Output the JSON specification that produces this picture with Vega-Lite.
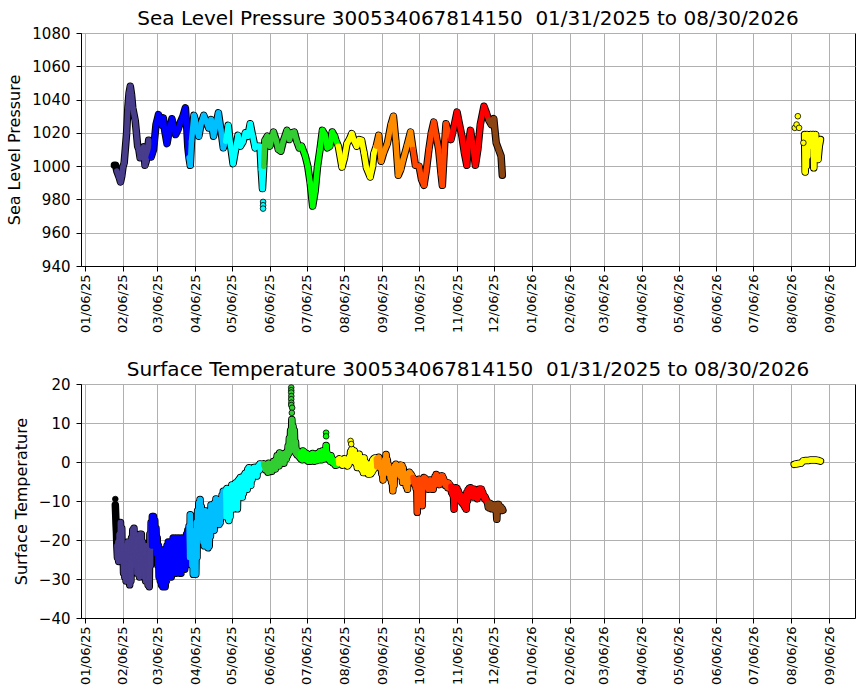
{
  "$schema": "https://vega.github.io/schema/vega-lite/v6.json",
  "background": "white",
  "padding": {"left": 6, "top": 8, "right": 5, "bottom": 5},
  "spacing": 26,
  "config": {
    "font": "DejaVu Sans",
    "view": {"stroke": "black", "strokeWidth": 1},
    "title": {"fontSize": 20, "fontWeight": "normal", "color": "black", "frame": "group", "offset": -3},
    "axis": {"domainColor": "black", "domainWidth": 1, "tickColor": "black", "tickSize": 5, "labelColor": "black", "titleColor": "black", "gridColor": "#b0b0b0", "gridWidth": 1, "titleFontWeight": "normal", "titleFontSize": 16},
    "axisX": {"labelFontSize": 13, "labelPadding": 3, "labelOverlap": false, "labelFlush": false, "labelBound": false},
    "axisY": {"labelFontSize": 15, "labelPadding": 6, "titlePadding": 9, "format": "d"}
  },
  "datasets": {
    "p": [
      {"t": "2025-01-30", "v": 1000.5}, {"t": "2025-01-31", "v": 1000.5},
      {"t": "2025-02-01", "v": 997}, {"t": "2025-02-03", "v": 993}, {"t": "2025-02-04", "v": 990.5}, {"t": "2025-02-05", "v": 994},
      {"t": "2025-02-06", "v": 999.5}, {"t": "2025-02-07", "v": 1002}, {"t": "2025-02-09", "v": 1020}, {"t": "2025-02-10", "v": 1035},
      {"t": "2025-02-11", "v": 1044}, {"t": "2025-02-12", "v": 1048}, {"t": "2025-02-13", "v": 1043}, {"t": "2025-02-14", "v": 1035},
      {"t": "2025-02-16", "v": 1027.5}, {"t": "2025-02-17", "v": 1020}, {"t": "2025-02-18", "v": 1012}, {"t": "2025-02-19", "v": 1010},
      {"t": "2025-02-20", "v": 1005}, {"t": "2025-02-21", "v": 1008}, {"t": "2025-02-23", "v": 1011.5}, {"t": "2025-02-24", "v": 1000.5},
      {"t": "2025-02-25", "v": 1003}, {"t": "2025-02-27", "v": 1015.5}, {"t": "2025-02-28", "v": 1010},
      {"t": "2025-03-01", "v": 1005.5}, {"t": "2025-03-03", "v": 1010}, {"t": "2025-03-05", "v": 1025}, {"t": "2025-03-07", "v": 1031},
      {"t": "2025-03-08", "v": 1027}, {"t": "2025-03-10", "v": 1024.5}, {"t": "2025-03-11", "v": 1029}, {"t": "2025-03-12", "v": 1022},
      {"t": "2025-03-14", "v": 1013.5}, {"t": "2025-03-16", "v": 1022}, {"t": "2025-03-18", "v": 1028.5}, {"t": "2025-03-19", "v": 1025},
      {"t": "2025-03-21", "v": 1019}, {"t": "2025-03-23", "v": 1022}, {"t": "2025-03-25", "v": 1026.5}, {"t": "2025-03-27", "v": 1030},
      {"t": "2025-03-29", "v": 1035}, {"t": "2025-03-30", "v": 1025}, {"t": "2025-03-31", "v": 1011.5},
      {"t": "2025-04-01", "v": 1005}, {"t": "2025-04-02", "v": 1000.5}, {"t": "2025-04-03", "v": 1015}, {"t": "2025-04-05", "v": 1030.5},
      {"t": "2025-04-06", "v": 1028}, {"t": "2025-04-07", "v": 1022}, {"t": "2025-04-09", "v": 1018}, {"t": "2025-04-11", "v": 1026},
      {"t": "2025-04-13", "v": 1030.5}, {"t": "2025-04-15", "v": 1027}, {"t": "2025-04-17", "v": 1023}, {"t": "2025-04-19", "v": 1028},
      {"t": "2025-04-21", "v": 1018}, {"t": "2025-04-23", "v": 1025}, {"t": "2025-04-25", "v": 1032}, {"t": "2025-04-27", "v": 1022},
      {"t": "2025-04-29", "v": 1011},
      {"t": "2025-05-01", "v": 1015}, {"t": "2025-05-03", "v": 1024.5}, {"t": "2025-05-05", "v": 1012}, {"t": "2025-05-07", "v": 1001.5},
      {"t": "2025-05-09", "v": 1010}, {"t": "2025-05-11", "v": 1018.5}, {"t": "2025-05-13", "v": 1012}, {"t": "2025-05-15", "v": 1014.5},
      {"t": "2025-05-17", "v": 1020}, {"t": "2025-05-19", "v": 1018}, {"t": "2025-05-21", "v": 1025.5}, {"t": "2025-05-23", "v": 1018},
      {"t": "2025-05-25", "v": 1011}, {"t": "2025-05-27", "v": 1012}, {"t": "2025-05-29", "v": 1012}, {"t": "2025-05-30", "v": 998},
      {"t": "2025-05-31", "v": 986.5},
      {"t": "2025-06-01", "v": 1000}, {"t": "2025-06-02", "v": 1015.5}, {"t": "2025-06-04", "v": 1018}, {"t": "2025-06-06", "v": 1012},
      {"t": "2025-06-09", "v": 1020.5}, {"t": "2025-06-11", "v": 1016}, {"t": "2025-06-13", "v": 1010}, {"t": "2025-06-15", "v": 1009},
      {"t": "2025-06-17", "v": 1015}, {"t": "2025-06-20", "v": 1021.5}, {"t": "2025-06-22", "v": 1016}, {"t": "2025-06-24", "v": 1020},
      {"t": "2025-06-26", "v": 1020.5}, {"t": "2025-06-28", "v": 1015}, {"t": "2025-06-30", "v": 1011},
      {"t": "2025-07-02", "v": 1012}, {"t": "2025-07-05", "v": 1006}, {"t": "2025-07-07", "v": 1000}, {"t": "2025-07-09", "v": 990},
      {"t": "2025-07-11", "v": 976}, {"t": "2025-07-13", "v": 985}, {"t": "2025-07-15", "v": 1000}, {"t": "2025-07-17", "v": 1010},
      {"t": "2025-07-19", "v": 1021.5}, {"t": "2025-07-21", "v": 1019}, {"t": "2025-07-23", "v": 1011}, {"t": "2025-07-25", "v": 1012},
      {"t": "2025-07-27", "v": 1020.5}, {"t": "2025-07-29", "v": 1018}, {"t": "2025-07-30", "v": 1015.5},
      {"t": "2025-08-01", "v": 1012}, {"t": "2025-08-04", "v": 999.5}, {"t": "2025-08-06", "v": 1005}, {"t": "2025-08-08", "v": 1013.5},
      {"t": "2025-08-10", "v": 1016}, {"t": "2025-08-12", "v": 1019.5}, {"t": "2025-08-14", "v": 1015}, {"t": "2025-08-16", "v": 1012},
      {"t": "2025-08-18", "v": 1016}, {"t": "2025-08-20", "v": 1015.5}, {"t": "2025-08-22", "v": 1008}, {"t": "2025-08-24", "v": 999},
      {"t": "2025-08-27", "v": 993.5}, {"t": "2025-08-29", "v": 1000}, {"t": "2025-08-30", "v": 1007.5},
      {"t": "2025-09-01", "v": 1012}, {"t": "2025-09-03", "v": 1018.5}, {"t": "2025-09-05", "v": 1003}, {"t": "2025-09-07", "v": 1008},
      {"t": "2025-09-10", "v": 1013.5}, {"t": "2025-09-13", "v": 1025}, {"t": "2025-09-15", "v": 1030}, {"t": "2025-09-17", "v": 1015},
      {"t": "2025-09-19", "v": 994.5}, {"t": "2025-09-21", "v": 998}, {"t": "2025-09-23", "v": 1004}, {"t": "2025-09-26", "v": 1012},
      {"t": "2025-09-29", "v": 1020.5},
      {"t": "2025-10-01", "v": 1010}, {"t": "2025-10-03", "v": 1000.5}, {"t": "2025-10-06", "v": 1000}, {"t": "2025-10-08", "v": 992},
      {"t": "2025-10-10", "v": 988.5}, {"t": "2025-10-12", "v": 998}, {"t": "2025-10-14", "v": 1010}, {"t": "2025-10-16", "v": 1020},
      {"t": "2025-10-18", "v": 1026.5}, {"t": "2025-10-20", "v": 1018}, {"t": "2025-10-22", "v": 1010}, {"t": "2025-10-24", "v": 995},
      {"t": "2025-10-25", "v": 988.5}, {"t": "2025-10-27", "v": 1015}, {"t": "2025-10-28", "v": 1025.5}, {"t": "2025-10-30", "v": 1020},
      {"t": "2025-11-01", "v": 1016}, {"t": "2025-11-03", "v": 1022}, {"t": "2025-11-06", "v": 1032.5}, {"t": "2025-11-08", "v": 1025},
      {"t": "2025-11-10", "v": 1018}, {"t": "2025-11-12", "v": 1008}, {"t": "2025-11-14", "v": 1000.5}, {"t": "2025-11-15", "v": 1012},
      {"t": "2025-11-17", "v": 1021.5}, {"t": "2025-11-19", "v": 1012}, {"t": "2025-11-21", "v": 1000.5}, {"t": "2025-11-23", "v": 1010},
      {"t": "2025-11-25", "v": 1025}, {"t": "2025-11-28", "v": 1036}, {"t": "2025-11-30", "v": 1032},
      {"t": "2025-12-02", "v": 1027.5}, {"t": "2025-12-04", "v": 1025}, {"t": "2025-12-06", "v": 1028.5}, {"t": "2025-12-08", "v": 1014},
      {"t": "2025-12-10", "v": 1010}, {"t": "2025-12-12", "v": 1006}, {"t": "2025-12-13", "v": 994.5},
      {"t": "2026-08-17", "v": 1019}, {"t": "2026-08-17T12:00Z", "v": 996.5}, {"t": "2026-08-18", "v": 1018}, {"t": "2026-08-18T12:00Z", "v": 1000},
      {"t": "2026-08-19", "v": 1019}, {"t": "2026-08-19T12:00Z", "v": 1006}, {"t": "2026-08-20", "v": 1016}, {"t": "2026-08-21", "v": 1012},
      {"t": "2026-08-22", "v": 1019}, {"t": "2026-08-23", "v": 1015}, {"t": "2026-08-24", "v": 1019}, {"t": "2026-08-24T12:00Z", "v": 999},
      {"t": "2026-08-25", "v": 1017}, {"t": "2026-08-26", "v": 1019}, {"t": "2026-08-27", "v": 1010}, {"t": "2026-08-28", "v": 1004},
      {"t": "2026-08-29", "v": 1012}, {"t": "2026-08-30", "v": 1016}
    ],
    "pp": [
      {"t": "2025-05-31T12:00Z", "v": 978.5}, {"t": "2025-05-31T12:00Z", "v": 976.5}, {"t": "2025-05-31T12:00Z", "v": 974.5},
      {"t": "2026-08-09", "v": 1023}, {"t": "2026-08-10T12:00Z", "v": 1025}, {"t": "2026-08-11T12:00Z", "v": 1030},
      {"t": "2026-08-12T12:00Z", "v": 1023}, {"t": "2026-08-16", "v": 1014}
    ],
    "s": [
      {"t": "2025-01-30T18:00Z", "v": -11}, {"t": "2025-01-31T00:00Z", "v": -13}, {"t": "2025-01-31T08:00Z", "v": -16}, {"t": "2025-01-31T16:00Z", "v": -18},
      {"t": "2025-02-01", "v": -21.5}, {"t": "2025-02-01T12:00Z", "v": -24.5}, {"t": "2025-02-02", "v": -20.5}, {"t": "2025-02-02T12:00Z", "v": -25.5},
      {"t": "2025-02-03", "v": -18.5}, {"t": "2025-02-03T12:00Z", "v": -23.5}, {"t": "2025-02-04", "v": -15.5}, {"t": "2025-02-04T12:00Z", "v": -21.5},
      {"t": "2025-02-05", "v": -17}, {"t": "2025-02-05T12:00Z", "v": -25.5}, {"t": "2025-02-06", "v": -21.5}, {"t": "2025-02-06T12:00Z", "v": -28.5},
      {"t": "2025-02-07", "v": -22.5}, {"t": "2025-02-07T12:00Z", "v": -29.5}, {"t": "2025-02-08", "v": -23.5}, {"t": "2025-02-08T12:00Z", "v": -30.5},
      {"t": "2025-02-09", "v": -21.5}, {"t": "2025-02-09T12:00Z", "v": -27.5}, {"t": "2025-02-10", "v": -20.5}, {"t": "2025-02-10T12:00Z", "v": -28.5},
      {"t": "2025-02-11", "v": -22.5}, {"t": "2025-02-11T12:00Z", "v": -31.5}, {"t": "2025-02-12", "v": -21.5}, {"t": "2025-02-12T12:00Z", "v": -30.5},
      {"t": "2025-02-13", "v": -19.5}, {"t": "2025-02-13T12:00Z", "v": -26.5}, {"t": "2025-02-14", "v": -17.5}, {"t": "2025-02-14T12:00Z", "v": -24.5},
      {"t": "2025-02-15", "v": -17}, {"t": "2025-02-15T12:00Z", "v": -23.5}, {"t": "2025-02-16", "v": -18.5}, {"t": "2025-02-16T12:00Z", "v": -26.5},
      {"t": "2025-02-17", "v": -20.5}, {"t": "2025-02-17T12:00Z", "v": -28.5}, {"t": "2025-02-18", "v": -19.5}, {"t": "2025-02-18T12:00Z", "v": -27.5},
      {"t": "2025-02-19", "v": -21.5}, {"t": "2025-02-19T12:00Z", "v": -29.5}, {"t": "2025-02-20", "v": -18.5}, {"t": "2025-02-20T12:00Z", "v": -26.5},
      {"t": "2025-02-21", "v": -18.5}, {"t": "2025-02-21T12:00Z", "v": -25.5}, {"t": "2025-02-22", "v": -20.5}, {"t": "2025-02-22T12:00Z", "v": -27.5},
      {"t": "2025-02-23", "v": -22.5}, {"t": "2025-02-23T12:00Z", "v": -29.5}, {"t": "2025-02-24", "v": -23.5}, {"t": "2025-02-24T12:00Z", "v": -30.5},
      {"t": "2025-02-25", "v": -21.5}, {"t": "2025-02-25T12:00Z", "v": -28.5}, {"t": "2025-02-26", "v": -24.5}, {"t": "2025-02-26T12:00Z", "v": -31.5},
      {"t": "2025-02-27", "v": -23.5}, {"t": "2025-02-27T12:00Z", "v": -32}, {"t": "2025-02-28", "v": -18.5}, {"t": "2025-02-28T12:00Z", "v": -26.5},
      {"t": "2025-03-01", "v": -15.5}, {"t": "2025-03-01T12:00Z", "v": -21.5}, {"t": "2025-03-02", "v": -14}, {"t": "2025-03-02T12:00Z", "v": -19.5},
      {"t": "2025-03-03", "v": -14}, {"t": "2025-03-03T12:00Z", "v": -18.5}, {"t": "2025-03-04", "v": -15}, {"t": "2025-03-04T12:00Z", "v": -21.5},
      {"t": "2025-03-05", "v": -17}, {"t": "2025-03-05T12:00Z", "v": -23.5}, {"t": "2025-03-06", "v": -19.5}, {"t": "2025-03-06T12:00Z", "v": -26.5},
      {"t": "2025-03-07", "v": -21.5}, {"t": "2025-03-07T12:00Z", "v": -29.5}, {"t": "2025-03-08", "v": -22.5}, {"t": "2025-03-08T12:00Z", "v": -30.5},
      {"t": "2025-03-09", "v": -24.5}, {"t": "2025-03-09T12:00Z", "v": -31.5}, {"t": "2025-03-10", "v": -23.5}, {"t": "2025-03-10T12:00Z", "v": -32},
      {"t": "2025-03-11", "v": -22.5}, {"t": "2025-03-11T12:00Z", "v": -30.5}, {"t": "2025-03-12", "v": -24.5}, {"t": "2025-03-12T12:00Z", "v": -32},
      {"t": "2025-03-13", "v": -23.5}, {"t": "2025-03-13T12:00Z", "v": -30.5}, {"t": "2025-03-14", "v": -21.5}, {"t": "2025-03-14T12:00Z", "v": -29.5},
      {"t": "2025-03-15", "v": -20.5}, {"t": "2025-03-15T12:00Z", "v": -28.5}, {"t": "2025-03-16", "v": -21.5}, {"t": "2025-03-16T12:00Z", "v": -29.5},
      {"t": "2025-03-17", "v": -20.5}, {"t": "2025-03-17T12:00Z", "v": -29.5}, {"t": "2025-03-18", "v": -21.5}, {"t": "2025-03-18T12:00Z", "v": -28.5},
      {"t": "2025-03-19", "v": -19.5}, {"t": "2025-03-19T12:00Z", "v": -27.5}, {"t": "2025-03-20", "v": -20.5}, {"t": "2025-03-20T12:00Z", "v": -28.5},
      {"t": "2025-03-21", "v": -19.5}, {"t": "2025-03-21T12:00Z", "v": -28.5}, {"t": "2025-03-22", "v": -20.5}, {"t": "2025-03-22T12:00Z", "v": -27.5},
      {"t": "2025-03-23", "v": -19.5}, {"t": "2025-03-23T12:00Z", "v": -27.5}, {"t": "2025-03-24", "v": -21.5}, {"t": "2025-03-24T12:00Z", "v": -28.5},
      {"t": "2025-03-25", "v": -20.5}, {"t": "2025-03-25T12:00Z", "v": -28.5}, {"t": "2025-03-26", "v": -19.5}, {"t": "2025-03-26T12:00Z", "v": -27.5},
      {"t": "2025-03-27", "v": -20.5}, {"t": "2025-03-27T12:00Z", "v": -26.5}, {"t": "2025-03-28", "v": -19.5}, {"t": "2025-03-28T12:00Z", "v": -27.5},
      {"t": "2025-03-29", "v": -20.5}, {"t": "2025-03-29T12:00Z", "v": -26.5}, {"t": "2025-03-30", "v": -18.5}, {"t": "2025-03-30T12:00Z", "v": -25.5},
      {"t": "2025-03-31", "v": -17.5}, {"t": "2025-03-31T12:00Z", "v": -25.5},
      {"t": "2025-04-01", "v": -16.5}, {"t": "2025-04-01T12:00Z", "v": -24.5}, {"t": "2025-04-02", "v": -13.5}, {"t": "2025-04-02T12:00Z", "v": -23.5},
      {"t": "2025-04-03", "v": -17.5}, {"t": "2025-04-03T12:00Z", "v": -26.5}, {"t": "2025-04-04", "v": -19.5}, {"t": "2025-04-04T12:00Z", "v": -28.8},
      {"t": "2025-04-05", "v": -18.5}, {"t": "2025-04-05T12:00Z", "v": -27.5}, {"t": "2025-04-06", "v": -20.5}, {"t": "2025-04-06T12:00Z", "v": -28.8},
      {"t": "2025-04-07", "v": -15.5}, {"t": "2025-04-07T12:00Z", "v": -24.5}, {"t": "2025-04-08", "v": -12.5}, {"t": "2025-04-08T12:00Z", "v": -19.5},
      {"t": "2025-04-09", "v": -10.5}, {"t": "2025-04-09T12:00Z", "v": -17.5}, {"t": "2025-04-10", "v": -9.6}, {"t": "2025-04-10T12:00Z", "v": -18.5},
      {"t": "2025-04-11", "v": -11.5}, {"t": "2025-04-11T12:00Z", "v": -19.5}, {"t": "2025-04-12", "v": -12.5}, {"t": "2025-04-12T12:00Z", "v": -20.5},
      {"t": "2025-04-13", "v": -13.5}, {"t": "2025-04-13T12:00Z", "v": -21.5}, {"t": "2025-04-14", "v": -12.5}, {"t": "2025-04-14T12:00Z", "v": -20.5},
      {"t": "2025-04-15", "v": -13.5}, {"t": "2025-04-15T12:00Z", "v": -21.5}, {"t": "2025-04-16", "v": -14}, {"t": "2025-04-16T12:00Z", "v": -22},
      {"t": "2025-04-17", "v": -14.5}, {"t": "2025-04-17T12:00Z", "v": -21.5}, {"t": "2025-04-18", "v": -12.5}, {"t": "2025-04-18T12:00Z", "v": -19},
      {"t": "2025-04-19", "v": -11}, {"t": "2025-04-19T12:00Z", "v": -17}, {"t": "2025-04-20", "v": -11.5}, {"t": "2025-04-20T12:00Z", "v": -17.5},
      {"t": "2025-04-21", "v": -12}, {"t": "2025-04-21T12:00Z", "v": -17.5}, {"t": "2025-04-22", "v": -10.5}, {"t": "2025-04-22T12:00Z", "v": -16},
      {"t": "2025-04-23", "v": -9.5}, {"t": "2025-04-23T12:00Z", "v": -15}, {"t": "2025-04-24", "v": -9.6}, {"t": "2025-04-24T12:00Z", "v": -14},
      {"t": "2025-04-25", "v": -10.5}, {"t": "2025-04-25T12:00Z", "v": -16}, {"t": "2025-04-26", "v": -11}, {"t": "2025-04-26T12:00Z", "v": -15.5},
      {"t": "2025-04-27", "v": -10.5}, {"t": "2025-04-27T12:00Z", "v": -14}, {"t": "2025-04-28", "v": -8.5}, {"t": "2025-04-28T12:00Z", "v": -13},
      {"t": "2025-04-29", "v": -7.5}, {"t": "2025-04-29T12:00Z", "v": -12.5}, {"t": "2025-04-30", "v": -7.5}, {"t": "2025-04-30T12:00Z", "v": -14},
      {"t": "2025-05-01", "v": -7.5}, {"t": "2025-05-01T12:00Z", "v": -14}, {"t": "2025-05-02", "v": -6.8}, {"t": "2025-05-02T12:00Z", "v": -13},
      {"t": "2025-05-03", "v": -8.5}, {"t": "2025-05-03T12:00Z", "v": -15}, {"t": "2025-05-04", "v": -7.5}, {"t": "2025-05-04T12:00Z", "v": -14},
      {"t": "2025-05-05", "v": -6.8}, {"t": "2025-05-05T12:00Z", "v": -12}, {"t": "2025-05-06", "v": -5.9}, {"t": "2025-05-06T12:00Z", "v": -11},
      {"t": "2025-05-07", "v": -6.5}, {"t": "2025-05-07T12:00Z", "v": -12}, {"t": "2025-05-08", "v": -5.9}, {"t": "2025-05-08T12:00Z", "v": -11},
      {"t": "2025-05-09", "v": -5.4}, {"t": "2025-05-09T12:00Z", "v": -10}, {"t": "2025-05-10", "v": -5.9}, {"t": "2025-05-10T12:00Z", "v": -12},
      {"t": "2025-05-11", "v": -4.9}, {"t": "2025-05-11T12:00Z", "v": -9}, {"t": "2025-05-12", "v": -4.4}, {"t": "2025-05-12T12:00Z", "v": -8},
      {"t": "2025-05-13", "v": -4}, {"t": "2025-05-13T12:00Z", "v": -9}, {"t": "2025-05-14", "v": -4.9}, {"t": "2025-05-14T12:00Z", "v": -9},
      {"t": "2025-05-15", "v": -4}, {"t": "2025-05-15T12:00Z", "v": -8}, {"t": "2025-05-16", "v": -3.4}, {"t": "2025-05-16T12:00Z", "v": -7},
      {"t": "2025-05-17", "v": -2.9}, {"t": "2025-05-17T12:00Z", "v": -6}, {"t": "2025-05-18", "v": -3.4}, {"t": "2025-05-18T12:00Z", "v": -7},
      {"t": "2025-05-19", "v": -1.9}, {"t": "2025-05-19T12:00Z", "v": -5}, {"t": "2025-05-20", "v": -1.5}, {"t": "2025-05-20T12:00Z", "v": -4.2},
      {"t": "2025-05-21", "v": -2.4}, {"t": "2025-05-21T12:00Z", "v": -6}, {"t": "2025-05-22", "v": -2.4}, {"t": "2025-05-22T12:00Z", "v": -4.5},
      {"t": "2025-05-23", "v": -1.9}, {"t": "2025-05-23T12:00Z", "v": -3.6}, {"t": "2025-05-24", "v": -1.4}, {"t": "2025-05-24T12:00Z", "v": -3.1},
      {"t": "2025-05-25", "v": -1.4}, {"t": "2025-05-25T12:00Z", "v": -2.6}, {"t": "2025-05-26", "v": -1.9}, {"t": "2025-05-26T12:00Z", "v": -3.6},
      {"t": "2025-05-27", "v": -1.4}, {"t": "2025-05-27T12:00Z", "v": -2.1}, {"t": "2025-05-28", "v": -0.9}, {"t": "2025-05-28T12:00Z", "v": -2.1},
      {"t": "2025-05-29", "v": -0.5}, {"t": "2025-05-29T12:00Z", "v": -1.6}, {"t": "2025-05-30", "v": -0.9}, {"t": "2025-05-30T12:00Z", "v": -1.1},
      {"t": "2025-05-31", "v": -0.6}, {"t": "2025-05-31T12:00Z", "v": -1},
      {"t": "2025-06-01", "v": -0.5}, {"t": "2025-06-01T12:00Z", "v": -1}, {"t": "2025-06-02", "v": -1.2}, {"t": "2025-06-02T12:00Z", "v": -2},
      {"t": "2025-06-03", "v": -0.8}, {"t": "2025-06-03T12:00Z", "v": -1.8}, {"t": "2025-06-04", "v": -1.5}, {"t": "2025-06-04T12:00Z", "v": -2.6},
      {"t": "2025-06-05", "v": -0.3}, {"t": "2025-06-05T12:00Z", "v": -1.2}, {"t": "2025-06-06", "v": -0.8}, {"t": "2025-06-06T12:00Z", "v": -2.2},
      {"t": "2025-06-07", "v": -1.2}, {"t": "2025-06-07T12:00Z", "v": -2.4}, {"t": "2025-06-08", "v": -0.3}, {"t": "2025-06-08T12:00Z", "v": -1.4},
      {"t": "2025-06-09", "v": 0.1}, {"t": "2025-06-09T12:00Z", "v": -0.8}, {"t": "2025-06-10", "v": -0.6}, {"t": "2025-06-10T12:00Z", "v": -1.8},
      {"t": "2025-06-11", "v": 0.6}, {"t": "2025-06-11T12:00Z", "v": -0.4}, {"t": "2025-06-12", "v": 1.6}, {"t": "2025-06-12T12:00Z", "v": 0.2},
      {"t": "2025-06-13", "v": 0.3}, {"t": "2025-06-13T12:00Z", "v": -1}, {"t": "2025-06-14", "v": 2.3}, {"t": "2025-06-14T12:00Z", "v": 0.9},
      {"t": "2025-06-15", "v": 1.2}, {"t": "2025-06-15T12:00Z", "v": -0.2}, {"t": "2025-06-16", "v": 1.9}, {"t": "2025-06-16T12:00Z", "v": 0.8},
      {"t": "2025-06-17", "v": 0.8}, {"t": "2025-06-17T12:00Z", "v": -0.3}, {"t": "2025-06-18", "v": 2.2}, {"t": "2025-06-18T12:00Z", "v": 1.3},
      {"t": "2025-06-19", "v": 1.2}, {"t": "2025-06-19T12:00Z", "v": 0.8}, {"t": "2025-06-20", "v": 2.6}, {"t": "2025-06-20T12:00Z", "v": 1.6},
      {"t": "2025-06-21", "v": 4.1}, {"t": "2025-06-21T12:00Z", "v": 2.2}, {"t": "2025-06-22", "v": 6.1}, {"t": "2025-06-22T12:00Z", "v": 2.8},
      {"t": "2025-06-23", "v": 8.1}, {"t": "2025-06-23T12:00Z", "v": 3.6}, {"t": "2025-06-24", "v": 10.9}, {"t": "2025-06-24T12:00Z", "v": 4.6},
      {"t": "2025-06-25", "v": 9.1}, {"t": "2025-06-25T12:00Z", "v": 3.6}, {"t": "2025-06-26", "v": 8.1}, {"t": "2025-06-26T12:00Z", "v": 2.8},
      {"t": "2025-06-27", "v": 5.1}, {"t": "2025-06-27T12:00Z", "v": 2.2}, {"t": "2025-06-28", "v": 3.1}, {"t": "2025-06-28T12:00Z", "v": 1.8},
      {"t": "2025-06-29", "v": 2.6}, {"t": "2025-06-29T12:00Z", "v": 1.6}, {"t": "2025-06-30", "v": 2.2}, {"t": "2025-06-30T12:00Z", "v": 1.2},
      {"t": "2025-07-01", "v": 2.2}, {"t": "2025-07-01T12:00Z", "v": 0.8}, {"t": "2025-07-02", "v": 1.8}, {"t": "2025-07-02T12:00Z", "v": 0.6},
      {"t": "2025-07-03", "v": 2.8}, {"t": "2025-07-03T12:00Z", "v": 1.4}, {"t": "2025-07-04", "v": 2.6}, {"t": "2025-07-04T12:00Z", "v": 1.2},
      {"t": "2025-07-05", "v": 1.8}, {"t": "2025-07-05T12:00Z", "v": 0.6}, {"t": "2025-07-06", "v": 2.2}, {"t": "2025-07-06T12:00Z", "v": 1},
      {"t": "2025-07-07", "v": 1.4}, {"t": "2025-07-07T12:00Z", "v": 0.2}, {"t": "2025-07-08", "v": 1.8}, {"t": "2025-07-08T12:00Z", "v": 0.6},
      {"t": "2025-07-09", "v": 1.4}, {"t": "2025-07-09T12:00Z", "v": 0.2}, {"t": "2025-07-10", "v": 1.8}, {"t": "2025-07-10T12:00Z", "v": 0.6},
      {"t": "2025-07-11", "v": 2.2}, {"t": "2025-07-11T12:00Z", "v": 1}, {"t": "2025-07-12", "v": 1.4}, {"t": "2025-07-12T12:00Z", "v": 0.2},
      {"t": "2025-07-13", "v": 1.8}, {"t": "2025-07-13T12:00Z", "v": 0.6}, {"t": "2025-07-14", "v": 1.4}, {"t": "2025-07-14T12:00Z", "v": 0.4},
      {"t": "2025-07-15", "v": 2.2}, {"t": "2025-07-15T12:00Z", "v": 1}, {"t": "2025-07-16", "v": 1.8}, {"t": "2025-07-16T12:00Z", "v": 0.6},
      {"t": "2025-07-17", "v": 2.6}, {"t": "2025-07-17T12:00Z", "v": 1}, {"t": "2025-07-18", "v": 1.8}, {"t": "2025-07-18T12:00Z", "v": 0.6},
      {"t": "2025-07-19", "v": 2.8}, {"t": "2025-07-19T12:00Z", "v": 1.2}, {"t": "2025-07-20", "v": 2.2}, {"t": "2025-07-20T12:00Z", "v": 0.8},
      {"t": "2025-07-21", "v": 2.6}, {"t": "2025-07-21T12:00Z", "v": 1}, {"t": "2025-07-22", "v": 4.2}, {"t": "2025-07-22T12:00Z", "v": 1.4},
      {"t": "2025-07-23", "v": 2.2}, {"t": "2025-07-23T12:00Z", "v": 1}, {"t": "2025-07-24", "v": 1.8}, {"t": "2025-07-24T12:00Z", "v": 0.6},
      {"t": "2025-07-25", "v": 1.2}, {"t": "2025-07-25T12:00Z", "v": 0.2}, {"t": "2025-07-26", "v": 1.6}, {"t": "2025-07-26T12:00Z", "v": 0.4},
      {"t": "2025-07-27", "v": 0.8}, {"t": "2025-07-27T12:00Z", "v": -0.2}, {"t": "2025-07-28", "v": 0.4}, {"t": "2025-07-28T12:00Z", "v": -0.4},
      {"t": "2025-07-29", "v": 0}, {"t": "2025-07-29T12:00Z", "v": -0.8}, {"t": "2025-07-30", "v": 0}, {"t": "2025-07-30T12:00Z", "v": -0.8},
      {"t": "2025-07-31", "v": 0.4}, {"t": "2025-07-31T12:00Z", "v": -0.4},
      {"t": "2025-08-01", "v": 0.6}, {"t": "2025-08-01T12:00Z", "v": -0.4}, {"t": "2025-08-02", "v": 0.8}, {"t": "2025-08-02T12:00Z", "v": -0.2},
      {"t": "2025-08-03", "v": 0.5}, {"t": "2025-08-03T12:00Z", "v": -0.5}, {"t": "2025-08-04", "v": 0.2}, {"t": "2025-08-04T12:00Z", "v": -0.8},
      {"t": "2025-08-05", "v": 0.6}, {"t": "2025-08-05T12:00Z", "v": -0.5}, {"t": "2025-08-06", "v": 0.8}, {"t": "2025-08-06T12:00Z", "v": -0.4},
      {"t": "2025-08-07", "v": 0.4}, {"t": "2025-08-07T12:00Z", "v": -0.7}, {"t": "2025-08-08", "v": 0.2}, {"t": "2025-08-08T12:00Z", "v": -1},
      {"t": "2025-08-09", "v": 0.5}, {"t": "2025-08-09T12:00Z", "v": -0.6}, {"t": "2025-08-10", "v": 1.2}, {"t": "2025-08-10T12:00Z", "v": 0.2},
      {"t": "2025-08-11", "v": 2.6}, {"t": "2025-08-11T12:00Z", "v": 0.9}, {"t": "2025-08-12", "v": 3.2}, {"t": "2025-08-12T12:00Z", "v": 1},
      {"t": "2025-08-13", "v": 2.4}, {"t": "2025-08-13T12:00Z", "v": 0.2}, {"t": "2025-08-14", "v": 2.8}, {"t": "2025-08-14T12:00Z", "v": 0.4},
      {"t": "2025-08-15", "v": 2}, {"t": "2025-08-15T12:00Z", "v": -0.4}, {"t": "2025-08-16", "v": 1.2}, {"t": "2025-08-16T12:00Z", "v": -1.4},
      {"t": "2025-08-17", "v": 1.6}, {"t": "2025-08-17T12:00Z", "v": -1}, {"t": "2025-08-18", "v": 2}, {"t": "2025-08-18T12:00Z", "v": -0.6},
      {"t": "2025-08-19", "v": 1.2}, {"t": "2025-08-19T12:00Z", "v": -1.6}, {"t": "2025-08-20", "v": 0.8}, {"t": "2025-08-20T12:00Z", "v": -2},
      {"t": "2025-08-21", "v": 0.2}, {"t": "2025-08-21T12:00Z", "v": -2.7}, {"t": "2025-08-22", "v": 1}, {"t": "2025-08-22T12:00Z", "v": -1.8},
      {"t": "2025-08-23", "v": 0}, {"t": "2025-08-23T12:00Z", "v": -2.2}, {"t": "2025-08-24", "v": -0.4}, {"t": "2025-08-24T12:00Z", "v": -2.6},
      {"t": "2025-08-25", "v": -0.8}, {"t": "2025-08-25T12:00Z", "v": -3.1}, {"t": "2025-08-26", "v": -1.2}, {"t": "2025-08-26T12:00Z", "v": -3.1},
      {"t": "2025-08-27", "v": -0.8}, {"t": "2025-08-27T12:00Z", "v": -3}, {"t": "2025-08-28", "v": -0.4}, {"t": "2025-08-28T12:00Z", "v": -2.6},
      {"t": "2025-08-29", "v": 0.4}, {"t": "2025-08-29T12:00Z", "v": -2}, {"t": "2025-08-30", "v": 0.8}, {"t": "2025-08-30T12:00Z", "v": -1.6},
      {"t": "2025-08-31", "v": 1}, {"t": "2025-08-31T12:00Z", "v": -1.2},
      {"t": "2025-09-01", "v": 0.8}, {"t": "2025-09-01T12:00Z", "v": -1.2}, {"t": "2025-09-02", "v": 1}, {"t": "2025-09-02T12:00Z", "v": -0.8},
      {"t": "2025-09-03", "v": 1.2}, {"t": "2025-09-03T12:00Z", "v": -0.2}, {"t": "2025-09-04", "v": -0.2}, {"t": "2025-09-04T12:00Z", "v": -1.6},
      {"t": "2025-09-05", "v": -1}, {"t": "2025-09-05T12:00Z", "v": -3}, {"t": "2025-09-06", "v": -1.8}, {"t": "2025-09-06T12:00Z", "v": -4.6},
      {"t": "2025-09-07", "v": -1}, {"t": "2025-09-07T12:00Z", "v": -3}, {"t": "2025-09-08", "v": 0.6}, {"t": "2025-09-08T12:00Z", "v": -1.2},
      {"t": "2025-09-09", "v": 1.9}, {"t": "2025-09-09T12:00Z", "v": -0.2}, {"t": "2025-09-10", "v": 0.6}, {"t": "2025-09-10T12:00Z", "v": -1.2},
      {"t": "2025-09-11", "v": -0.8}, {"t": "2025-09-11T12:00Z", "v": -3}, {"t": "2025-09-12", "v": -1.6}, {"t": "2025-09-12T12:00Z", "v": -4.2},
      {"t": "2025-09-13", "v": -2.6}, {"t": "2025-09-13T12:00Z", "v": -5.2}, {"t": "2025-09-14", "v": -4.2}, {"t": "2025-09-14T12:00Z", "v": -7.4},
      {"t": "2025-09-15", "v": -2.8}, {"t": "2025-09-15T12:00Z", "v": -6}, {"t": "2025-09-16", "v": -1}, {"t": "2025-09-16T12:00Z", "v": -3.2},
      {"t": "2025-09-17", "v": -0.6}, {"t": "2025-09-17T12:00Z", "v": -2.2}, {"t": "2025-09-18", "v": -0.9}, {"t": "2025-09-18T12:00Z", "v": -1.8},
      {"t": "2025-09-19", "v": -1}, {"t": "2025-09-19T12:00Z", "v": -2.8}, {"t": "2025-09-20", "v": -1.4}, {"t": "2025-09-20T12:00Z", "v": -3.6},
      {"t": "2025-09-21", "v": -0.8}, {"t": "2025-09-21T12:00Z", "v": -2.8}, {"t": "2025-09-22", "v": -0.9}, {"t": "2025-09-22T12:00Z", "v": -5.2},
      {"t": "2025-09-23", "v": -1.6}, {"t": "2025-09-23T12:00Z", "v": -4}, {"t": "2025-09-24", "v": -2.8}, {"t": "2025-09-24T12:00Z", "v": -5.2},
      {"t": "2025-09-25", "v": -3.6}, {"t": "2025-09-25T12:00Z", "v": -6.2}, {"t": "2025-09-26", "v": -4.4}, {"t": "2025-09-26T12:00Z", "v": -7},
      {"t": "2025-09-27", "v": -3.2}, {"t": "2025-09-27T12:00Z", "v": -5.2}, {"t": "2025-09-28", "v": -2.6}, {"t": "2025-09-28T12:00Z", "v": -4.2},
      {"t": "2025-09-29", "v": -3}, {"t": "2025-09-29T12:00Z", "v": -4.6}, {"t": "2025-09-30", "v": -3.4}, {"t": "2025-09-30T12:00Z", "v": -4.6},
      {"t": "2025-10-01", "v": -4}, {"t": "2025-10-01T12:00Z", "v": -5.2}, {"t": "2025-10-02", "v": -4.4}, {"t": "2025-10-02T12:00Z", "v": -5.8},
      {"t": "2025-10-03", "v": -4.6}, {"t": "2025-10-03T12:00Z", "v": -6.8}, {"t": "2025-10-04", "v": -5}, {"t": "2025-10-04T12:00Z", "v": -12.9},
      {"t": "2025-10-05", "v": -4.8}, {"t": "2025-10-05T12:00Z", "v": -6.2}, {"t": "2025-10-06", "v": -4.4}, {"t": "2025-10-06T12:00Z", "v": -5.4},
      {"t": "2025-10-07", "v": -4.8}, {"t": "2025-10-07T12:00Z", "v": -5.8}, {"t": "2025-10-08", "v": -5.2}, {"t": "2025-10-08T12:00Z", "v": -11.2},
      {"t": "2025-10-09", "v": -4.4}, {"t": "2025-10-09T12:00Z", "v": -5.4}, {"t": "2025-10-10", "v": -4}, {"t": "2025-10-10T12:00Z", "v": -5},
      {"t": "2025-10-11", "v": -4.2}, {"t": "2025-10-11T12:00Z", "v": -5.6}, {"t": "2025-10-12", "v": -4.6}, {"t": "2025-10-12T12:00Z", "v": -6.4},
      {"t": "2025-10-13", "v": -5}, {"t": "2025-10-13T12:00Z", "v": -7}, {"t": "2025-10-14", "v": -4.8}, {"t": "2025-10-14T12:00Z", "v": -6.4},
      {"t": "2025-10-15", "v": -4.6}, {"t": "2025-10-15T12:00Z", "v": -6.4}, {"t": "2025-10-16", "v": -5}, {"t": "2025-10-16T12:00Z", "v": -7},
      {"t": "2025-10-17", "v": -5.4}, {"t": "2025-10-17T12:00Z", "v": -7}, {"t": "2025-10-18", "v": -4.6}, {"t": "2025-10-18T12:00Z", "v": -6},
      {"t": "2025-10-19", "v": -3.8}, {"t": "2025-10-19T12:00Z", "v": -5.2}, {"t": "2025-10-20", "v": -3.2}, {"t": "2025-10-20T12:00Z", "v": -4.6},
      {"t": "2025-10-21", "v": -3.8}, {"t": "2025-10-21T12:00Z", "v": -5}, {"t": "2025-10-22", "v": -4.6}, {"t": "2025-10-22T12:00Z", "v": -5.8},
      {"t": "2025-10-23", "v": -4.2}, {"t": "2025-10-23T12:00Z", "v": -5.4}, {"t": "2025-10-24", "v": -3.6}, {"t": "2025-10-24T12:00Z", "v": -4.6},
      {"t": "2025-10-25", "v": -3.6}, {"t": "2025-10-25T12:00Z", "v": -4.8}, {"t": "2025-10-26", "v": -4.2}, {"t": "2025-10-26T12:00Z", "v": -5.4},
      {"t": "2025-10-27", "v": -5}, {"t": "2025-10-27T12:00Z", "v": -6}, {"t": "2025-10-28", "v": -5.2}, {"t": "2025-10-28T12:00Z", "v": -6.2},
      {"t": "2025-10-29", "v": -5.4}, {"t": "2025-10-29T12:00Z", "v": -6.6}, {"t": "2025-10-30", "v": -5.4}, {"t": "2025-10-30T12:00Z", "v": -6.4},
      {"t": "2025-10-31", "v": -5.8}, {"t": "2025-10-31T12:00Z", "v": -6.8},
      {"t": "2025-11-01", "v": -6.2}, {"t": "2025-11-01T12:00Z", "v": -7.8}, {"t": "2025-11-02", "v": -6.6}, {"t": "2025-11-02T12:00Z", "v": -8.4},
      {"t": "2025-11-03", "v": -7.4}, {"t": "2025-11-03T12:00Z", "v": -12.1}, {"t": "2025-11-04", "v": -7}, {"t": "2025-11-04T12:00Z", "v": -9},
      {"t": "2025-11-05", "v": -6.6}, {"t": "2025-11-05T12:00Z", "v": -8.2}, {"t": "2025-11-06", "v": -6.8}, {"t": "2025-11-06T12:00Z", "v": -8.6},
      {"t": "2025-11-07", "v": -7.4}, {"t": "2025-11-07T12:00Z", "v": -9.4}, {"t": "2025-11-08", "v": -8.2}, {"t": "2025-11-08T12:00Z", "v": -9.9},
      {"t": "2025-11-09", "v": -8.6}, {"t": "2025-11-09T12:00Z", "v": -10.2}, {"t": "2025-11-10", "v": -9}, {"t": "2025-11-10T12:00Z", "v": -10.6},
      {"t": "2025-11-11", "v": -8.8}, {"t": "2025-11-11T12:00Z", "v": -11}, {"t": "2025-11-12", "v": -9.2}, {"t": "2025-11-12T12:00Z", "v": -11.6},
      {"t": "2025-11-13", "v": -8.8}, {"t": "2025-11-13T12:00Z", "v": -12.1}, {"t": "2025-11-14", "v": -7.8}, {"t": "2025-11-14T12:00Z", "v": -10},
      {"t": "2025-11-15", "v": -7.2}, {"t": "2025-11-15T12:00Z", "v": -9}, {"t": "2025-11-16", "v": -6.8}, {"t": "2025-11-16T12:00Z", "v": -8.2},
      {"t": "2025-11-17", "v": -6.6}, {"t": "2025-11-17T12:00Z", "v": -7.8}, {"t": "2025-11-18", "v": -6.8}, {"t": "2025-11-18T12:00Z", "v": -8.2},
      {"t": "2025-11-19", "v": -7.2}, {"t": "2025-11-19T12:00Z", "v": -9}, {"t": "2025-11-20", "v": -7}, {"t": "2025-11-20T12:00Z", "v": -8.6},
      {"t": "2025-11-21", "v": -7.4}, {"t": "2025-11-21T12:00Z", "v": -9.1}, {"t": "2025-11-22", "v": -7.8}, {"t": "2025-11-22T12:00Z", "v": -9.4},
      {"t": "2025-11-23", "v": -7.4}, {"t": "2025-11-23T12:00Z", "v": -8.8}, {"t": "2025-11-24", "v": -7}, {"t": "2025-11-24T12:00Z", "v": -8.4},
      {"t": "2025-11-25", "v": -7}, {"t": "2025-11-25T12:00Z", "v": -8.2}, {"t": "2025-11-26", "v": -7}, {"t": "2025-11-26T12:00Z", "v": -8},
      {"t": "2025-11-27", "v": -7.8}, {"t": "2025-11-27T12:00Z", "v": -8.8}, {"t": "2025-11-28", "v": -8.6}, {"t": "2025-11-28T12:00Z", "v": -9.4},
      {"t": "2025-11-29", "v": -9}, {"t": "2025-11-29T12:00Z", "v": -9.4}, {"t": "2025-11-30", "v": -9.8}, {"t": "2025-11-30T12:00Z", "v": -10.2},
      {"t": "2025-12-01", "v": -10.6}, {"t": "2025-12-01T12:00Z", "v": -11.6}, {"t": "2025-12-02", "v": -10.8}, {"t": "2025-12-02T12:00Z", "v": -11.8},
      {"t": "2025-12-03", "v": -10.6}, {"t": "2025-12-03T12:00Z", "v": -11.6}, {"t": "2025-12-04", "v": -11}, {"t": "2025-12-04T12:00Z", "v": -12},
      {"t": "2025-12-05", "v": -11.2}, {"t": "2025-12-05T12:00Z", "v": -12}, {"t": "2025-12-06", "v": -11}, {"t": "2025-12-06T12:00Z", "v": -11.8},
      {"t": "2025-12-07", "v": -11.4}, {"t": "2025-12-07T12:00Z", "v": -12.4}, {"t": "2025-12-08", "v": -12}, {"t": "2025-12-08T12:00Z", "v": -14.7},
      {"t": "2025-12-09", "v": -10.9}, {"t": "2025-12-09T12:00Z", "v": -11.6}, {"t": "2025-12-10", "v": -10.9}, {"t": "2025-12-10T12:00Z", "v": -12},
      {"t": "2025-12-11", "v": -11.4}, {"t": "2025-12-11T12:00Z", "v": -12.4}, {"t": "2025-12-12", "v": -11.6}, {"t": "2025-12-12T12:00Z", "v": -12.4},
      {"t": "2025-12-13", "v": -12}, {"t": "2025-12-13T12:00Z", "v": -12.4},
      {"t": "2026-08-08T12:00Z", "v": -0.6}, {"t": "2026-08-10", "v": -0.5}, {"t": "2026-08-12", "v": -0.4}, {"t": "2026-08-14", "v": -0.3},
      {"t": "2026-08-16", "v": 0.3}, {"t": "2026-08-18", "v": 0.4}, {"t": "2026-08-20", "v": 0.4}, {"t": "2026-08-22", "v": 0.5},
      {"t": "2026-08-24", "v": 0.5}, {"t": "2026-08-26", "v": 0.5}, {"t": "2026-08-28", "v": 0.4}, {"t": "2026-08-30", "v": 0.2}
    ],
    "sp": [
      {"t": "2025-01-30T18:00Z", "v": -9.5},
      {"t": "2025-06-23T12:00Z", "v": 19.1}, {"t": "2025-06-23T12:00Z", "v": 18.4}, {"t": "2025-06-23T12:00Z", "v": 17.8},
      {"t": "2025-06-23T14:00Z", "v": 16.9}, {"t": "2025-06-23T12:00Z", "v": 16.1}, {"t": "2025-06-23T14:00Z", "v": 15.2},
      {"t": "2025-06-23T12:00Z", "v": 14.6}, {"t": "2025-06-24T06:00Z", "v": 13.9}, {"t": "2025-06-24T00:00Z", "v": 12.6},
      {"t": "2025-07-22", "v": 7.5}, {"t": "2025-07-22", "v": 6.6},
      {"t": "2025-08-11", "v": 5.4}, {"t": "2025-08-11T12:00Z", "v": 4.6}
    ]
  },
  "vconcat": [
    {
      "title": {"text": "Sea Level Pressure 300534067814150 \u00a001/31/2025 to 08/30/2026"},
      "width": 774,
      "height": 233,
      "encoding": {
        "x": {
          "field": "t", "type": "temporal",
          "scale": {"type": "utc", "domain": [{"year": 2025, "month": 1, "date": 2, "hours": 17, "utc": true}, {"year": 2026, "month": 9, "date": 27, "hours": 5, "utc": true}]},
          "axis": {"title": null, "format": "%m/%d/%y", "labelAngle": 270,
            "values": [
              {"year": 2025, "month": 1, "date": 6, "utc": true}, {"year": 2025, "month": 2, "date": 6, "utc": true}, {"year": 2025, "month": 3, "date": 6, "utc": true},
              {"year": 2025, "month": 4, "date": 6, "utc": true}, {"year": 2025, "month": 5, "date": 6, "utc": true}, {"year": 2025, "month": 6, "date": 6, "utc": true},
              {"year": 2025, "month": 7, "date": 6, "utc": true}, {"year": 2025, "month": 8, "date": 6, "utc": true}, {"year": 2025, "month": 9, "date": 6, "utc": true},
              {"year": 2025, "month": 10, "date": 6, "utc": true}, {"year": 2025, "month": 11, "date": 6, "utc": true}, {"year": 2025, "month": 12, "date": 6, "utc": true},
              {"year": 2026, "month": 1, "date": 6, "utc": true}, {"year": 2026, "month": 2, "date": 6, "utc": true}, {"year": 2026, "month": 3, "date": 6, "utc": true},
              {"year": 2026, "month": 4, "date": 6, "utc": true}, {"year": 2026, "month": 5, "date": 6, "utc": true}, {"year": 2026, "month": 6, "date": 6, "utc": true},
              {"year": 2026, "month": 7, "date": 6, "utc": true}, {"year": 2026, "month": 8, "date": 6, "utc": true}, {"year": 2026, "month": 9, "date": 6, "utc": true}
            ]}
        },
        "y": {
          "field": "v", "type": "quantitative",
          "scale": {"domain": [940, 1080], "nice": false, "zero": false},
          "axis": {"title": "Sea Level Pressure", "values": [940, 960, 980, 1000, 1020, 1040, 1060, 1080]}
        }
      },
      "layer": [
        {
          "data": {"name": "p"},
          "mark": {"type": "line", "color": "black", "strokeWidth": 7.5, "strokeJoin": "round", "strokeCap": "round"},
          "encoding": {"detail": {"field": "t", "timeUnit": "utcyear", "type": "ordinal"}}
        },
        {
          "data": {"name": "p"},
          "transform": [
            {"timeUnit": "utcyear", "field": "t", "as": "yr"},
            {"window": [{"op": "lead", "field": "t", "as": "t2"}, {"op": "lead", "field": "v", "as": "v2"}], "groupby": ["yr"], "sort": [{"field": "t"}]},
            {"filter": "isValid(datum.t2)"}
          ],
          "mark": {"type": "rule", "strokeWidth": 5.5, "strokeCap": "round"},
          "encoding": {
            "x2": {"field": "t2"},
            "y2": {"field": "v2"},
            "color": {"field": "t", "timeUnit": "utcmonth", "type": "ordinal", "legend": null,
              "scale": {"range": ["#000000", "#483D8B", "#0000FF", "#00BFFF", "#00FFFF", "#32CD32", "#00FF00", "#FFFF00", "#FF8C00", "#FF4500", "#FF0000", "#8B4513"]}}
          }
        },
        {
          "data": {"name": "pp"},
          "mark": {"type": "circle", "size": 32, "opacity": 1, "stroke": "black", "strokeWidth": 0.8},
          "encoding": {
            "color": {"field": "t", "timeUnit": "utcmonth", "type": "ordinal", "legend": null,
              "scale": {"range": ["#000000", "#483D8B", "#0000FF", "#00BFFF", "#00FFFF", "#32CD32", "#00FF00", "#FFFF00", "#FF8C00", "#FF4500", "#FF0000", "#8B4513"]}}
          }
        }
      ]
    },
    {
      "title": {"text": "Surface Temperature 300534067814150 \u00a001/31/2025 to 08/30/2026"},
      "width": 774,
      "height": 234,
      "encoding": {
        "x": {
          "field": "t", "type": "temporal",
          "scale": {"type": "utc", "domain": [{"year": 2025, "month": 1, "date": 2, "hours": 17, "utc": true}, {"year": 2026, "month": 9, "date": 27, "hours": 5, "utc": true}]},
          "axis": {"title": null, "format": "%m/%d/%y", "labelAngle": 270,
            "values": [
              {"year": 2025, "month": 1, "date": 6, "utc": true}, {"year": 2025, "month": 2, "date": 6, "utc": true}, {"year": 2025, "month": 3, "date": 6, "utc": true},
              {"year": 2025, "month": 4, "date": 6, "utc": true}, {"year": 2025, "month": 5, "date": 6, "utc": true}, {"year": 2025, "month": 6, "date": 6, "utc": true},
              {"year": 2025, "month": 7, "date": 6, "utc": true}, {"year": 2025, "month": 8, "date": 6, "utc": true}, {"year": 2025, "month": 9, "date": 6, "utc": true},
              {"year": 2025, "month": 10, "date": 6, "utc": true}, {"year": 2025, "month": 11, "date": 6, "utc": true}, {"year": 2025, "month": 12, "date": 6, "utc": true},
              {"year": 2026, "month": 1, "date": 6, "utc": true}, {"year": 2026, "month": 2, "date": 6, "utc": true}, {"year": 2026, "month": 3, "date": 6, "utc": true},
              {"year": 2026, "month": 4, "date": 6, "utc": true}, {"year": 2026, "month": 5, "date": 6, "utc": true}, {"year": 2026, "month": 6, "date": 6, "utc": true},
              {"year": 2026, "month": 7, "date": 6, "utc": true}, {"year": 2026, "month": 8, "date": 6, "utc": true}, {"year": 2026, "month": 9, "date": 6, "utc": true}
            ]}
        },
        "y": {
          "field": "v", "type": "quantitative",
          "scale": {"domain": [-40, 20], "nice": false, "zero": false},
          "axis": {"title": "Surface Temperature", "values": [-40, -30, -20, -10, 0, 10, 20]}
        }
      },
      "layer": [
        {
          "data": {"name": "s"},
          "mark": {"type": "line", "color": "black", "strokeWidth": 7.5, "strokeJoin": "round", "strokeCap": "round"},
          "encoding": {"detail": {"field": "t", "timeUnit": "utcyear", "type": "ordinal"}}
        },
        {
          "data": {"name": "s"},
          "transform": [
            {"timeUnit": "utcyear", "field": "t", "as": "yr"},
            {"window": [{"op": "lead", "field": "t", "as": "t2"}, {"op": "lead", "field": "v", "as": "v2"}], "groupby": ["yr"], "sort": [{"field": "t"}]},
            {"filter": "isValid(datum.t2)"}
          ],
          "mark": {"type": "rule", "strokeWidth": 5.5, "strokeCap": "round"},
          "encoding": {
            "x2": {"field": "t2"},
            "y2": {"field": "v2"},
            "color": {"field": "t", "timeUnit": "utcmonth", "type": "ordinal", "legend": null,
              "scale": {"range": ["#000000", "#483D8B", "#0000FF", "#00BFFF", "#00FFFF", "#32CD32", "#00FF00", "#FFFF00", "#FF8C00", "#FF4500", "#FF0000", "#8B4513"]}}
          }
        },
        {
          "data": {"name": "sp"},
          "mark": {"type": "circle", "size": 32, "opacity": 1, "stroke": "black", "strokeWidth": 0.8},
          "encoding": {
            "color": {"field": "t", "timeUnit": "utcmonth", "type": "ordinal", "legend": null,
              "scale": {"range": ["#000000", "#483D8B", "#0000FF", "#00BFFF", "#00FFFF", "#32CD32", "#00FF00", "#FFFF00", "#FF8C00", "#FF4500", "#FF0000", "#8B4513"]}}
          }
        }
      ]
    }
  ]
}
